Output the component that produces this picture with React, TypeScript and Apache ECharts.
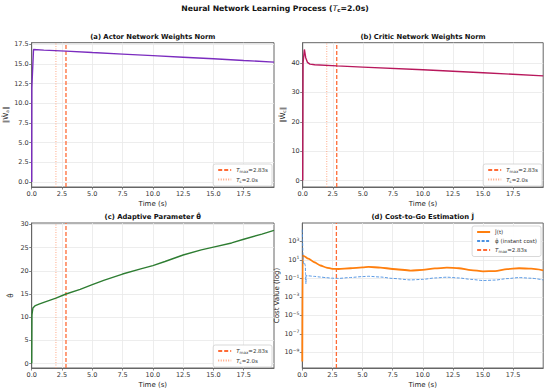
import React, { useEffect, useRef } from 'react';
import * as echarts from 'echarts';

const T_MAX = 2.83;
const T_C = 2.0;

const actorTime = [0, 0.01, 0.15, 1, 2.83, 5, 7.5, 10, 12.5, 15, 17.5, 20];
const actorNorm = [0, 12.0, 16.85, 16.78, 16.65, 16.47, 16.27, 16.07, 15.87, 15.67, 15.45, 15.25];

const criticTime = [0, 0.03, 0.14, 0.25, 0.4, 0.6, 1, 2.83, 5, 10, 15, 20];
const criticNorm = [0, 40.0, 44.6, 41.8, 40.2, 39.6, 39.4, 39.0, 38.6, 37.7, 36.7, 35.6];

const thetaTime = [0, 0.02, 0.1, 0.3, 0.6, 1, 2, 2.83, 4, 5, 6, 7.5, 9, 10, 11, 12.5, 14, 15, 16.5, 17.5, 19, 20];
const thetaHat = [0, 10.5, 12.0, 12.5, 12.8, 13.2, 14.1, 15.0, 16.0, 17.0, 18.0, 19.3, 20.4, 21.1, 22.0, 23.4, 24.5, 25.1, 26.0, 26.8, 27.9, 28.7];

const costTime = [0, 0.03, 0.1, 0.5, 1, 1.5, 2, 2.5, 3, 4, 5, 5.5, 6.5, 7.5, 9, 10, 11, 12, 13, 14, 15, 16, 17, 18, 19, 20];
const costJ = [1e-10, 31.6, 28.2, 14.1, 5.6, 2.5, 1.5, 1.07, 1.05, 1.26, 1.58, 1.74, 1.51, 1.05, 0.71, 0.83, 1.2, 1.48, 1.26, 0.79, 0.59, 0.63, 1.0, 1.26, 1.12, 0.76];

const phiTime = [0, 0.02, 0.05, 0.08, 0.12, 0.18, 0.25, 0.27, 0.3, 0.32, 0.5, 1, 1.5, 2, 2.5, 3, 4, 5, 5.5, 6.5, 7.5, 9, 10, 11, 12, 13, 14, 15, 16, 17, 18, 19, 20];
const phiCost = [1.9e4, 1.6e3, 63, 7.9, 4.0, 5.0, 2.5, 0.32, 0.025, 0.2, 0.19, 0.166, 0.141, 0.12, 0.105, 0.1, 0.126, 0.158, 0.17, 0.141, 0.1, 0.069, 0.079, 0.112, 0.135, 0.112, 0.079, 0.059, 0.066, 0.095, 0.123, 0.105, 0.069];

const xTicks = [0, 2.5, 5, 7.5, 10, 12.5, 15, 17.5];
const actorTicks = [0, 2.5, 5, 7.5, 10, 12.5, 15, 17.5];
const criticTicks = [0, 10, 20, 30, 40];
const thetaTicks = [0, 5, 10, 15, 20, 25, 30];
const costTickExp = [-9, -7, -5, -3, -1, 1, 3];

const FONT = 'DejaVu Sans';
const AXIS_COLOR = '#666';
const TEXT_COLOR = '#333';
const C_TMAX = '#ff6b35';
const C_TC = '#ffa07a';

const zip = (xs: number[], ys: number[]) => xs.map((x, i) => [x, ys[i]]);

const grids = [
  { left: 31.7, top: 42.7, width: 242.3, height: 144.3 },
  { left: 302.7, top: 42.7, width: 240.5, height: 144.3 },
  { left: 31.7, top: 223, width: 242.3, height: 145 },
  { left: 302.3, top: 223, width: 240.9, height: 145 },
];

const yRanges = [
  [-0.65, 17.72],
  [-2.2, 46.9],
  [-0.95, 30.3],
  [-10.7, 5.0],
];

const subRich = {
  i: { fontStyle: 'italic', fontFamily: FONT },
  s: { fontSize: 4.5, padding: [3, 0, 0, 0], fontFamily: FONT },
};

function makeX(gi: number) {
  return {
    type: 'value',
    gridIndex: gi,
    min: 0,
    max: 20,
    interval: 2.5,
    name: 'Time (s)',
    nameLocation: 'middle',
    nameGap: 13,
    nameTextStyle: { fontSize: 7, color: '#222', fontFamily: FONT },
    axisLine: { show: true, onZero: false, lineStyle: { color: AXIS_COLOR, width: 1 } },
    axisTick: { show: true, length: 2.5, customValues: xTicks, lineStyle: { color: AXIS_COLOR, width: 0.8 } },
    axisLabel: {
      customValues: xTicks,
      formatter: (v: number) => v.toFixed(1),
      fontSize: 6.5,
      color: TEXT_COLOR,
      margin: 3,
      fontFamily: FONT,
    },
    splitLine: { show: true, lineStyle: { color: '#e9e9e9', width: 0.8 } },
  };
}

function makeY(gi: number, ticks: number[], fmt: (v: number) => string, name: string, nameGap: number) {
  return {
    type: 'value',
    gridIndex: gi,
    min: yRanges[gi][0],
    max: yRanges[gi][1],
    name,
    nameLocation: 'middle',
    nameGap,
    nameTextStyle: { fontSize: 7, color: '#222', fontFamily: FONT, rich: subRich },
    axisLine: { show: true, onZero: false, lineStyle: { color: AXIS_COLOR, width: 1 } },
    axisTick: { show: true, length: 2.5, customValues: ticks, lineStyle: { color: AXIS_COLOR, width: 0.8 } },
    axisLabel: {
      customValues: ticks,
      formatter: fmt,
      fontSize: 6.5,
      color: TEXT_COLOR,
      margin: 3,
      fontFamily: FONT,
      rich: {
        b: { fontSize: 6.5, color: TEXT_COLOR, fontFamily: FONT },
        e: { fontSize: 4.5, color: TEXT_COLOR, padding: [0, 0, 4, 0], fontFamily: FONT },
      },
    },
    splitLine: { show: true, lineStyle: { color: '#e9e9e9', width: 0.8 } },
  };
}

function vLine(name: string, gi: number, t: number, color: string, type: any, width: number) {
  return {
    type: 'line',
    name,
    xAxisIndex: gi,
    yAxisIndex: gi,
    data: [[t, yRanges[gi][0]], [t, yRanges[gi][1]]],
    symbol: 'none',
    showSymbol: false,
    lineStyle: { color, type, width },
    itemStyle: { color },
    silent: true,
    z: 3,
  };
}

function mainLine(name: string, gi: number, data: number[][], color: string, width: number, extra: any = {}) {
  return {
    type: 'line',
    name,
    xAxisIndex: gi,
    yAxisIndex: gi,
    data,
    symbol: 'none',
    showSymbol: false,
    lineStyle: { color, width },
    itemStyle: { color },
    silent: true,
    z: 4,
    ...extra,
  };
}

const legendLabels: Record<string, string> = {
  a_tmax: '{i|T}{s|max}=2.83s',
  a_tc: '{i|T}{s|c}=2.0s',
  b_tmax: '{i|T}{s|max}=2.83s',
  b_tc: '{i|T}{s|c}=2.0s',
  c_tmax: '{i|T}{s|max}=2.83s',
  c_tc: '{i|T}{s|c}=2.0s',
  d_J: 'Ĵ(t)',
  d_phi: 'φ̂ (instant cost)',
  d_tmax: '{i|T}{s|max}=2.83s',
};

const legendCommon = {
  orient: 'vertical',
  backgroundColor: 'rgba(255,255,255,0.9)',
  borderColor: '#cfcfcf',
  borderWidth: 0.8,
  borderRadius: 2,
  padding: [3, 4, 3, 4],
  itemGap: 3,
  itemWidth: 13,
  itemHeight: 6,
  selectedMode: false,
  itemStyle: { opacity: 0 },
  textStyle: {
    fontSize: 5.5,
    color: TEXT_COLOR,
    fontFamily: FONT,
    rich: {
      i: { fontStyle: 'italic', fontSize: 5.5, fontFamily: FONT },
      s: { fontSize: 4, padding: [3, 0, 0, 0], fontFamily: FONT },
    },
  },
  formatter: (n: string) => legendLabels[n] || n,
};

function subTitle(text: string, cx: number, top: number) {
  return {
    text,
    left: cx,
    top,
    textAlign: 'center',
    padding: 0,
    textStyle: {
      fontSize: 6.8,
      fontWeight: 'bold',
      color: '#111',
      fontFamily: FONT,
      rich: {
        i: { fontStyle: 'italic', fontWeight: 'bold', fontSize: 6.8, fontFamily: FONT },
        s: { fontSize: 5, padding: [3, 0, 0, 0], fontFamily: FONT },
      },
    },
  };
}

export default function App() {
  const ref = useRef<HTMLDivElement>(null);
  useEffect(() => {
    if (!ref.current) return;
    const chart = echarts.init(ref.current, undefined, { renderer: 'svg' });
    const costData = zip(costTime, costJ.map((v) => Math.log10(v)));
    const phiData = zip(phiTime, phiCost.map((v) => Math.log10(v)));
    const option: any = {
      animation: false,
      backgroundColor: '#ffffff',
      title: [
        {
          text: 'Neural Network Learning Process ({i|T}{s|c}=2.0s)',
          left: 275,
          top: 4,
          textAlign: 'center',
          padding: 0,
          textStyle: {
            fontSize: 7.7,
            fontWeight: 'bold',
            color: '#111',
            fontFamily: FONT,
            rich: {
              i: { fontStyle: 'italic', fontWeight: 'normal', fontSize: 7.7, fontFamily: FONT },
              s: { fontSize: 5.5, padding: [3, 0, 0, 0], fontFamily: FONT },
            },
          },
        },
        subTitle('(a) Actor Network Weights Norm', 152.8, 33.8),
        subTitle('(b) Critic Network Weights Norm', 423, 33.8),
        subTitle('(c) Adaptive Parameter θ̂', 152.8, 213.8),
        subTitle('(d) Cost-to-Go Estimation Ĵ', 422.7, 213.8),
      ],
      grid: grids.map((g) => ({ ...g, show: true, borderColor: AXIS_COLOR, borderWidth: 1, backgroundColor: 'transparent' })),
      xAxis: [makeX(0), makeX(1), makeX(2), makeX(3)],
      yAxis: [
        makeY(0, actorTicks, (v: number) => v.toFixed(1), '‖Ŵ{s|a}‖', 22),
        makeY(1, criticTicks, (v: number) => String(Math.round(v)), '‖Ŵ{s|c}‖', 16),
        makeY(2, thetaTicks, (v: number) => String(Math.round(v)), 'θ̂', 17),
        makeY(3, costTickExp, (v: number) => '{b|10}{e|' + String(Math.round(v)).replace('-', '−') + '}', 'Cost Value (log)', 20),
      ],
      legend: [
        { ...legendCommon, data: ['a_tmax', 'a_tc'], right: 278, bottom: 203 },
        { ...legendCommon, data: ['b_tmax', 'b_tc'], right: 8, bottom: 203 },
        { ...legendCommon, data: ['c_tmax', 'c_tc'], right: 278, bottom: 22 },
        { ...legendCommon, data: ['d_J', 'd_phi', 'd_tmax'], right: 9, top: 226 },
      ],
      series: [
        mainLine('actor', 0, zip(actorTime, actorNorm), '#7b2cbf', 1.4),
        vLine('a_tmax', 0, T_MAX, C_TMAX, [4, 2], 1.3),
        vLine('a_tc', 0, T_C, C_TC, [1, 1.5], 0.9),
        mainLine('critic', 1, zip(criticTime, criticNorm), '#b8185c', 1.4),
        vLine('b_tmax', 1, T_MAX, C_TMAX, [4, 2], 1.3),
        vLine('b_tc', 1, T_C, C_TC, [1, 1.5], 0.9),
        mainLine('theta', 2, zip(thetaTime, thetaHat), '#2e7d32', 1.4),
        vLine('c_tmax', 2, T_MAX, C_TMAX, [4, 2], 1.3),
        vLine('c_tc', 2, T_C, C_TC, [1, 1.5], 0.9),
        mainLine('d_J', 3, costData, '#ff7f0e', 1.8, { smooth: 0.25, smoothMonotone: 'x' }),
        {
          ...mainLine('d_phi', 3, phiData, '#4a90e2', 0.9, { smooth: 0.25, smoothMonotone: 'x' }),
          lineStyle: { color: '#4a90e2', width: 0.9, type: [3, 1.5] },
        },
        vLine('d_tmax', 3, T_MAX, C_TMAX, [4, 2], 1.3),
      ],
    };
    chart.setOption(option);
    return () => chart.dispose();
  }, []);
  return <div ref={ref} style={{ position: 'absolute', left: 0, top: 0, width: 550, height: 389 }} />;
}
